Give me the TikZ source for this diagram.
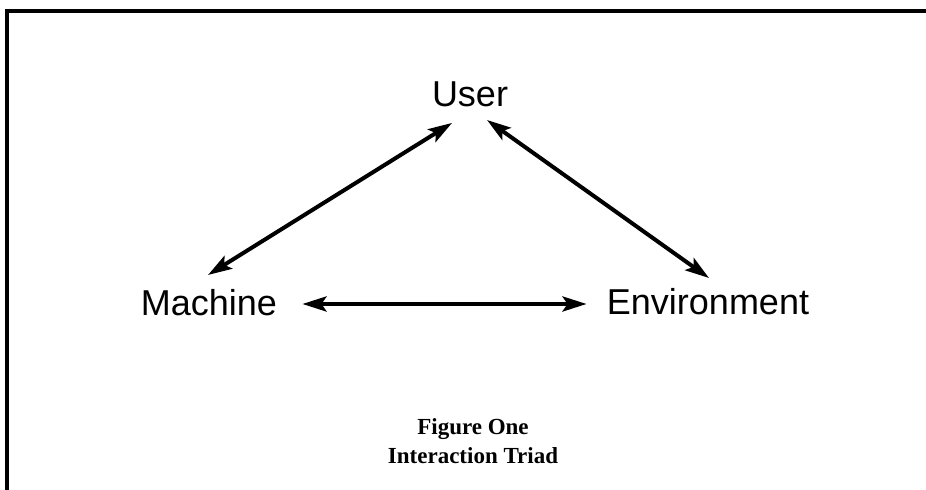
\documentclass[tikz,border=0pt]{standalone}
\usepackage{fontspec}
\setmainfont{Liberation Serif}
\setsansfont{Liberation Sans}
\usetikzlibrary{arrows.meta}

\begin{document}
\begin{tikzpicture}[x=0.5pt,y=-0.5pt,
    label/.style={font=\sffamily\fontsize{18}{20}\selectfont,inner sep=0pt},
    pair/.style={{Stealth[length=12pt,width=7.5pt,inset=2.5pt]}-{Stealth[length=12pt,width=7.5pt,inset=2.5pt]},line width=2pt},
    caption/.style={font=\rmfamily\bfseries\fontsize{11.5}{14.5}\selectfont,align=center,inner sep=0pt}]
  \useasboundingbox (0,0) rectangle (926,490);
  % Frame: only the top and left edges show
  \draw[line width=1.8pt] (7,490) -- (7,11) -- (926,11);
  % The three parts of the triad
  \node[label] (user) at (470,94) {User};
  \node[label] (machine) at (209,303) {Machine};
  \node[label] (environment) at (708,302) {Environment};
  % Two-way links
  \draw[pair] ([shift={(-1,-28)}]machine.center) -- ([shift={(-18,29)}]user.center);
  \draw[pair] ([shift={(17,26)}]user.center) -- ([shift={(1,-24)}]environment.center);
  \draw[pair] ([shift={(25,1)}]machine.east) -- ([shift={(-20,2)}]environment.west);
  % Caption
  \node[caption] (caption) at (473,441) {Figure One\\Interaction Triad};
\end{tikzpicture}
\end{document}
